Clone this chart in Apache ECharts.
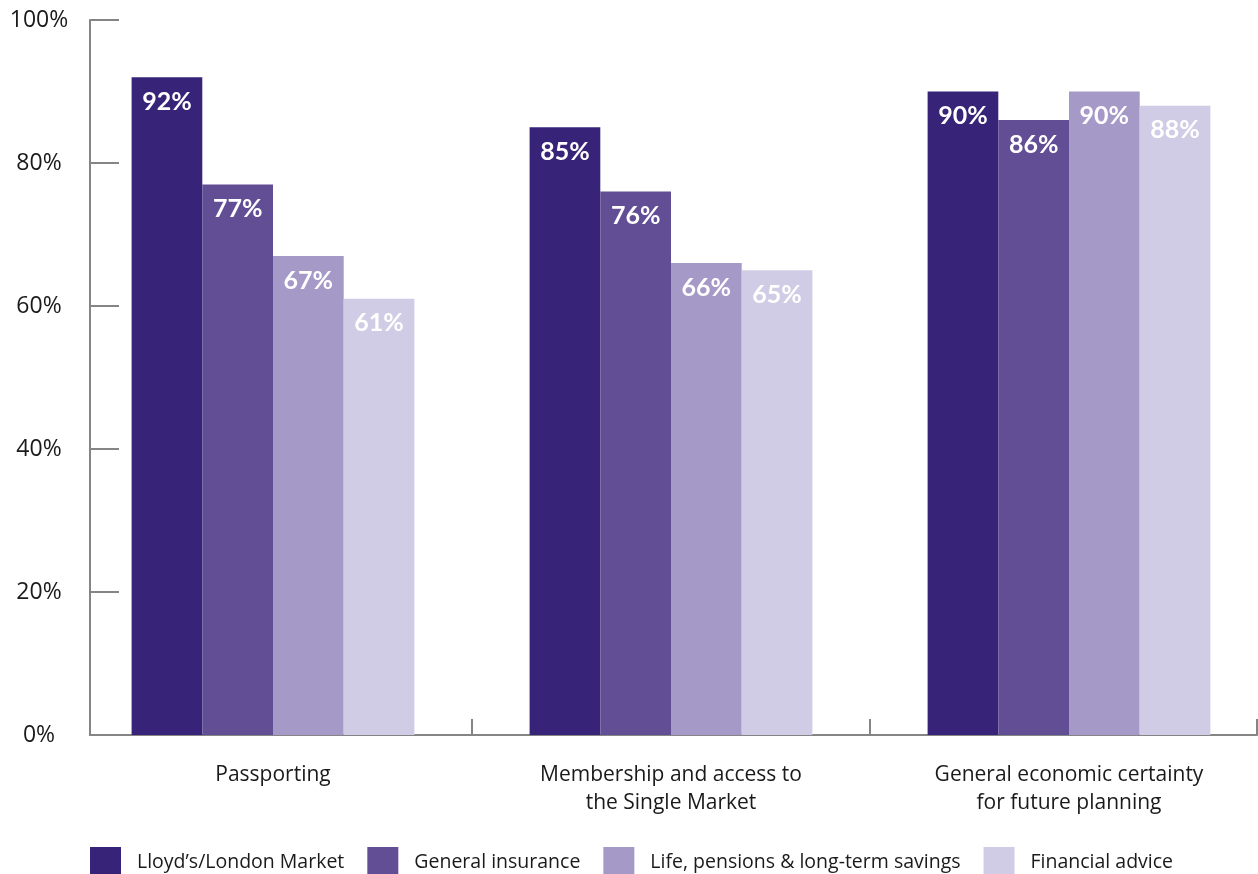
<!DOCTYPE html>
<html>
<head>
<meta charset="utf-8">
<title>Priorities by sector</title>
<script src="https://cdn.jsdelivr.net/npm/echarts@6/dist/echarts.min.js"></script>
<style>
  html, body { margin: 0; padding: 0; background: #ffffff; }
  #chart { width: 1258px; height: 874px; }
</style>
</head>
<body>
<div id="chart"></div>
<script>
// Categories along the x axis
var categories = [
  'Passporting',
  'Membership and access to\nthe Single Market',
  'General economic certainty\nfor future planning'
];

// Share of respondents per sector (%)
var seriesNames = [
  'Lloyd\u2019s/London Market',
  'General insurance',
  'Life, pensions & long-term savings',
  'Financial advice'
];
var lloydsLondon = [92, 85, 90];
var generalInsurance = [77, 76, 86];
var lifePensions = [67, 66, 90];
var financialAdvice = [61, 65, 88];

// Value axis ticks
var yTicks = [0, 20, 40, 60, 80, 100];

var colors = ['#372378', '#614e95', '#a599c8', '#d1cce5'];
var axisColor = '#858585';
var seriesData = [lloydsLondon, generalInsurance, lifePensions, financialAdvice];

var chart = echarts.init(document.getElementById('chart'), null, { renderer: 'canvas' });

var series = seriesNames.map(function (name, i) {
  return {
    name: name,
    type: 'bar',
    xAxisIndex: 0,
    yAxisIndex: 0,
    data: seriesData[i],
    barWidth: 70.7,
    barGap: '0%',
    itemStyle: { color: colors[i] },
    label: {
      show: true,
      position: 'insideTop',
      distance: 12,
      formatter: '{c}%',
      color: '#ffffff',
      fontFamily: 'Lato',
      fontWeight: 'bold',
      fontSize: 25
    }
  };
});

chart.setOption({
  animation: false,
  color: colors,
  grid: [
    // bars and category ticks
    { left: 74, width: 1194, top: 20, bottom: 139, containLabel: false, outerBoundsMode: 'none' },
    // axis frame
    { left: 90, right: 1, top: 20, bottom: 139, containLabel: false, outerBoundsMode: 'none' }
  ],
  legend: {
    data: seriesNames,
    left: 90,
    top: 847,
    padding: 0,
    icon: 'rect',
    itemWidth: 31,
    itemHeight: 31,
    itemGap: 23,
    textStyle: {
      fontFamily: 'Open Sans',
      fontSize: 19.5,
      color: '#1a1a1a',
      padding: [0, 0, 0, 11]
    }
  },
  xAxis: [
    {
      type: 'category',
      gridIndex: 0,
      data: categories,
      axisLine: { show: false },
      axisTick: {
        show: true,
        inside: true,
        length: 16,
        interval: function (idx) { return idx > 0; },
        lineStyle: { color: axisColor, width: 2 }
      },
      axisLabel: {
        margin: 26,
        fontFamily: 'Open Sans',
        fontSize: 21,
        lineHeight: 28,
        color: '#1a1a1a'
      }
    },
    {
      type: 'value',
      gridIndex: 1,
      min: 0,
      max: 1,
      interval: 1,
      axisLine: { show: true, lineStyle: { color: axisColor, width: 2 } },
      axisTick: { show: true, inside: true, length: 16, lineStyle: { color: axisColor, width: 2 } },
      axisLabel: { show: false },
      splitLine: { show: false }
    }
  ],
  yAxis: [
    {
      type: 'value',
      gridIndex: 0,
      min: yTicks[0],
      max: yTicks[yTicks.length - 1],
      interval: 20,
      show: false
    },
    {
      type: 'value',
      gridIndex: 1,
      min: yTicks[0],
      max: yTicks[yTicks.length - 1],
      interval: 20,
      axisLine: { show: true, lineStyle: { color: axisColor, width: 2 } },
      axisTick: { show: true, inside: true, length: 29, lineStyle: { color: axisColor, width: 2 } },
      axisLabel: {
        formatter: '{value}%',
        align: 'center',
        margin: 51,
        padding: [10, 0, 0, 0],
        fontFamily: 'Open Sans',
        fontSize: 23,
        color: '#1a1a1a'
      },
      splitLine: { show: false }
    }
  ],
  series: series
});
</script>
</body>
</html>
